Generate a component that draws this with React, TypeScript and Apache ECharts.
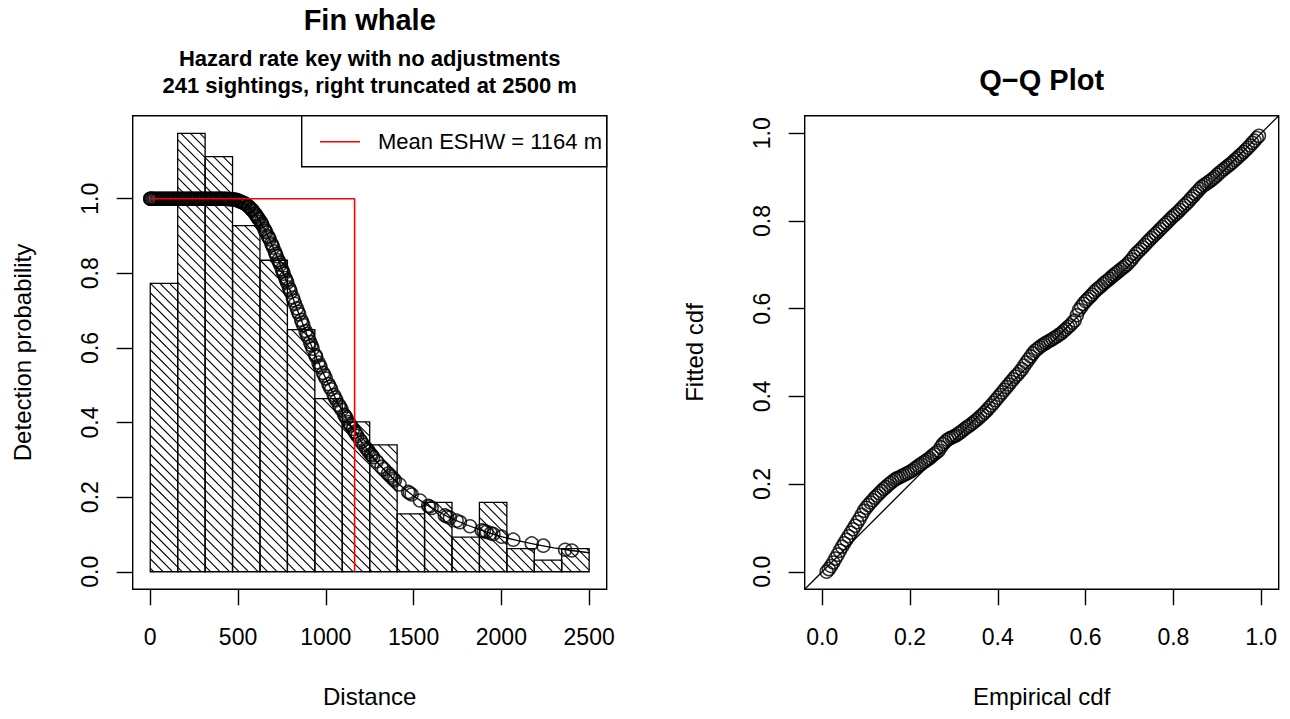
import React, { useEffect, useRef } from "react";
import * as echarts from "echarts";

// ---------- data ----------
const binEdges = [0, 156.25, 312.5, 468.75, 625, 781.25, 937.5, 1093.75, 1250, 1406.25, 1562.5, 1718.75, 1875, 2031.25, 2187.5, 2343.75, 2500];
const binHeights = [0.773, 1.175, 1.113, 0.928, 0.835, 0.649, 0.464, 0.402, 0.34, 0.155, 0.186, 0.093, 0.186, 0.062, 0.031, 0.062];

const curveDist = [0, 100, 200, 300, 400, 450, 500, 530, 560, 590, 620, 650, 680, 710, 740, 770, 800, 830, 860, 890, 920, 950, 980, 1010, 1040, 1070, 1100, 1130, 1160, 1190, 1220, 1250, 1300, 1350, 1400, 1450, 1500, 1600, 1700, 1800, 1900, 2000, 2100, 2200, 2300, 2400, 2500];
const curveProb = [1, 1, 1, 1, 1, 0.999, 0.995, 0.989, 0.979, 0.964, 0.944, 0.919, 0.891, 0.858, 0.823, 0.787, 0.75, 0.712, 0.675, 0.639, 0.604, 0.57, 0.538, 0.508, 0.479, 0.451, 0.425, 0.401, 0.379, 0.357, 0.337, 0.319, 0.29, 0.265, 0.242, 0.221, 0.203, 0.172, 0.146, 0.126, 0.109, 0.094, 0.083, 0.073, 0.064, 0.057, 0.051];

const sightDist = [
  0, 0, 4, 9, 15, 22, 28, 37, 44, 51, 60, 66, 75, 81, 90, 97, 105, 113, 119, 128, 137, 143, 152, 161, 167, 176, 185, 191, 200, 209, 216, 224, 233, 240, 249, 257, 263, 272, 281, 288, 296, 305, 311, 320, 329, 336, 344, 353, 359, 368, 377, 384, 392, 401, 408, 416, 425, 432, 441, 448, 457, 464,
  475, 485, 495, 505, 515, 525, 535, 545, 555, 565, 575, 585, 595, 605, 615,
  630, 640, 650, 660, 670, 680, 690, 700, 710, 720, 730, 740, 750, 760, 770, 780,
  790, 800, 812, 825, 835, 848, 860, 872, 885, 898, 910, 925,
  945, 958, 970, 985, 1000, 1015, 1030, 1045, 1060, 1075, 1090,
  1105, 1118, 1130, 1142, 1155, 1165, 1180, 1203, 1215, 1230, 1245,
  1256, 1262, 1270, 1290, 1317, 1330, 1355, 1365, 1374, 1385, 1393, 1420, 1469, 1478, 1489, 1536, 1583, 1590, 1603, 1678, 1690, 1707, 1745, 1764, 1821, 1888, 1900, 1916, 1940, 1954, 2002, 2068, 2173, 2239, 2363, 2401,
  480, 500, 520, 540, 560, 580, 600, 610, 620,
  635, 655, 675, 695, 715, 735, 755, 775,
  795, 818, 842, 866, 892, 918,
  940, 965, 992, 1022, 1052, 1082,
  1112, 1136, 1172, 1195, 1238,
];
const sightProb = [
  1, 1, 1, 1, 1, 1, 1, 1, 1, 1, 1, 1, 1, 1, 1, 1, 1, 1, 1, 1, 1, 1, 1, 1, 1, 1, 1, 1, 1, 1, 1, 1, 1, 1, 1, 1, 1, 1, 1, 1, 1, 1, 1, 1, 1, 1, 1, 1, 1, 1, 1, 1, 1, 1, 1, 1, 1, 1, 0.999, 0.999, 0.999, 0.998,
  0.998, 0.997, 0.996, 0.994, 0.992, 0.99, 0.988, 0.985, 0.981, 0.977, 0.972, 0.967, 0.961, 0.954, 0.947,
  0.938, 0.928, 0.919, 0.91, 0.9, 0.891, 0.88, 0.869, 0.858, 0.846, 0.835, 0.823, 0.811, 0.799, 0.787, 0.775,
  0.762, 0.75, 0.735, 0.718, 0.706, 0.69, 0.675, 0.661, 0.645, 0.63, 0.616, 0.598,
  0.576, 0.561, 0.548, 0.533, 0.518, 0.503, 0.489, 0.474, 0.46, 0.447, 0.434,
  0.421, 0.411, 0.401, 0.392, 0.383, 0.375, 0.364, 0.348, 0.34, 0.331, 0.322,
  0.315, 0.312, 0.307, 0.296, 0.281, 0.275, 0.263, 0.258, 0.254, 0.249, 0.245, 0.234, 0.214, 0.211, 0.207, 0.191, 0.177, 0.175, 0.171, 0.151, 0.148, 0.145, 0.137, 0.133, 0.122, 0.111, 0.109, 0.107, 0.103, 0.101, 0.094, 0.086, 0.076, 0.07, 0.059, 0.057,
  0.998, 0.995, 0.991, 0.987, 0.979, 0.97, 0.958, 0.951, 0.944,
  0.933, 0.914, 0.896, 0.875, 0.852, 0.829, 0.805, 0.781,
  0.756, 0.727, 0.697, 0.668, 0.637, 0.607,
  0.581, 0.553, 0.526, 0.496, 0.467, 0.441,
  0.416, 0.396, 0.37, 0.354, 0.327,
];

const meanEshw = 1164;
const distTicks = [0, 500, 1000, 1500, 2000, 2500];
const probTicks = [0, 0.2, 0.4, 0.6, 0.8, 1.0];

const qqEmpirical = [
  0.01, 0.015, 0.02, 0.025, 0.03, 0.035, 0.04, 0.045, 0.05, 0.055,
  0.06, 0.065, 0.07, 0.075, 0.08, 0.085, 0.09, 0.095, 0.1, 0.105,
  0.11, 0.115, 0.12, 0.125, 0.13, 0.135, 0.14, 0.145, 0.15, 0.155,
  0.16, 0.165, 0.17, 0.175, 0.18, 0.185, 0.19, 0.195, 0.2, 0.205,
  0.21, 0.215, 0.22, 0.225, 0.23, 0.235, 0.24, 0.245, 0.25, 0.255,
  0.26, 0.265, 0.27, 0.275, 0.28, 0.285, 0.29, 0.295, 0.3, 0.305,
  0.31, 0.315, 0.32, 0.325, 0.33, 0.335, 0.34, 0.345, 0.35, 0.355,
  0.36, 0.365, 0.37, 0.375, 0.38, 0.385, 0.39, 0.395, 0.4, 0.405,
  0.41, 0.415, 0.42, 0.425, 0.43, 0.435, 0.44, 0.445, 0.45, 0.455,
  0.46, 0.465, 0.47, 0.475, 0.48, 0.485, 0.49, 0.495, 0.5, 0.505,
  0.51, 0.515, 0.52, 0.525, 0.53, 0.535, 0.54, 0.545, 0.55, 0.555,
  0.56, 0.565, 0.57, 0.575, 0.58, 0.585, 0.59, 0.595, 0.6, 0.605,
  0.61, 0.615, 0.62, 0.625, 0.63, 0.635, 0.64, 0.645, 0.65, 0.655,
  0.66, 0.665, 0.67, 0.675, 0.68, 0.685, 0.69, 0.695, 0.7, 0.705,
  0.71, 0.715, 0.72, 0.725, 0.73, 0.735, 0.74, 0.745, 0.75, 0.755,
  0.76, 0.765, 0.77, 0.775, 0.78, 0.785, 0.79, 0.795, 0.8, 0.805,
  0.81, 0.815, 0.82, 0.825, 0.83, 0.835, 0.84, 0.845, 0.85, 0.855,
  0.86, 0.865, 0.87, 0.875, 0.88, 0.885, 0.89, 0.895, 0.9, 0.905,
  0.91, 0.915, 0.92, 0.925, 0.93, 0.935, 0.94, 0.945, 0.95, 0.955,
  0.96, 0.965, 0.97, 0.975, 0.98, 0.985, 0.99, 0.995,
];
const qqFitted = [
  0.0, 0.006, 0.013, 0.021, 0.03, 0.039, 0.048, 0.057, 0.065, 0.073,
  0.081, 0.089, 0.097, 0.105, 0.113, 0.121, 0.13, 0.139, 0.146, 0.152,
  0.158, 0.163, 0.169, 0.174, 0.179, 0.184, 0.189, 0.193, 0.198, 0.202,
  0.206, 0.21, 0.213, 0.215, 0.218, 0.22, 0.223, 0.225, 0.228, 0.231,
  0.235, 0.238, 0.242, 0.245, 0.249, 0.252, 0.256, 0.259, 0.264, 0.268,
  0.272, 0.276, 0.284, 0.291, 0.296, 0.301, 0.304, 0.306, 0.309, 0.311,
  0.315, 0.318, 0.322, 0.326, 0.33, 0.333, 0.337, 0.341, 0.345, 0.349,
  0.354, 0.358, 0.363, 0.368, 0.374, 0.379, 0.385, 0.391, 0.397, 0.403,
  0.409, 0.415, 0.421, 0.427, 0.433, 0.439, 0.445, 0.45, 0.456, 0.462,
  0.47, 0.477, 0.484, 0.491, 0.498, 0.504, 0.508, 0.512, 0.516, 0.519,
  0.522, 0.525, 0.528, 0.531, 0.534, 0.537, 0.541, 0.544, 0.549, 0.553,
  0.558, 0.562, 0.568, 0.573, 0.585, 0.597, 0.604, 0.611, 0.617, 0.622,
  0.627, 0.632, 0.638, 0.643, 0.647, 0.651, 0.656, 0.66, 0.664, 0.668,
  0.673, 0.677, 0.681, 0.685, 0.689, 0.693, 0.697, 0.701, 0.707, 0.712,
  0.719, 0.725, 0.73, 0.735, 0.74, 0.745, 0.751, 0.756, 0.761, 0.766,
  0.771, 0.776, 0.781, 0.786, 0.791, 0.796, 0.801, 0.806, 0.811, 0.815,
  0.82, 0.825, 0.83, 0.835, 0.84, 0.845, 0.851, 0.856, 0.862, 0.867,
  0.873, 0.878, 0.882, 0.885, 0.889, 0.892, 0.896, 0.9, 0.905, 0.91,
  0.914, 0.918, 0.922, 0.926, 0.93, 0.934, 0.939, 0.943, 0.948, 0.952,
  0.957, 0.962, 0.967, 0.972, 0.978, 0.983, 0.989, 0.994,
];

// ---------- layout / style ----------
const FONT = "'Liberation Sans', Arial, Helvetica, sans-serif";
const LEFT_BOX = { left: 132.7, top: 115.7, width: 474, height: 473.6 };
const RIGHT_BOX = { left: 804.7, top: 115.7, width: 474, height: 473.6 };
const DIST_RANGE = [-100, 2600];
const PROB_RANGE = [-0.047, 1.2225];
const QQ_RANGE = [-0.04, 1.04];
const HATCH = 9.5;
const TICK_FONT = 23;
const NAME_FONT = 24;

function axisCommon(ticks: number[], fmt: (v: number) => string, rotate: number, margin: number) {
  return {
    type: "value" as const,
    axisLine: { show: false, onZero: false },
    splitLine: { show: false },
    axisTick: { show: true, inside: false, customValues: ticks, length: 16, lineStyle: { color: "#000", width: 1.4 } },
    axisLabel: { customValues: ticks, formatter: fmt, rotate, margin, fontSize: TICK_FONT, color: "#000", fontFamily: FONT },
    nameLocation: "middle" as const,
    nameTextStyle: { fontSize: NAME_FONT, color: "#000", fontFamily: FONT },
  };
}

export default function App() {
  const ref = useRef<HTMLDivElement>(null);
  useEffect(() => {
    const chart = echarts.init(ref.current!, undefined, { renderer: "svg" });
    const histData = binHeights.map((h, i) => [binEdges[i], binEdges[i + 1], h]);
    const curveData = curveDist.map((d, i) => [d, curveProb[i]]);
    const sightData = sightDist.map((d, i) => [d, sightProb[i]]);
    const qqData = qqEmpirical.map((e, i) => [e, qqFitted[i]]);
    const cx = LEFT_BOX.left + LEFT_BOX.width / 2;
    const rcx = RIGHT_BOX.left + RIGHT_BOX.width / 2;
    const titleStyle = (size: number) => ({ fontSize: size, fontWeight: "bold" as const, color: "#000", fontFamily: FONT });
    const circleStyle = { color: "rgba(0,0,0,0)", borderColor: "#000", borderWidth: 1.5 };

    const option: any = {
      animation: false,
      backgroundColor: "#fff",
      title: [
        { text: "Fin whale", left: cx, top: 20, textAlign: "center", textVerticalAlign: "middle", padding: 0, textStyle: titleStyle(29) },
        { text: "Hazard rate key with no adjustments", left: cx, top: 58, textAlign: "center", textVerticalAlign: "middle", padding: 0, textStyle: titleStyle(22) },
        { text: "241 sightings, right truncated at 2500 m", left: cx, top: 85, textAlign: "center", textVerticalAlign: "middle", padding: 0, textStyle: titleStyle(22) },
        { text: "Q\u2212Q Plot", left: rcx, top: 80, textAlign: "center", textVerticalAlign: "middle", padding: 0, textStyle: titleStyle(29) },
      ],
      grid: [
        { ...LEFT_BOX, show: true, borderColor: "#000", borderWidth: 1.4, backgroundColor: "transparent" },
        { ...RIGHT_BOX, show: true, borderColor: "#000", borderWidth: 1.4, backgroundColor: "transparent" },
      ],
      xAxis: [
        { ...axisCommon(distTicks, (v: number) => String(v), 0, 36), gridIndex: 0, min: DIST_RANGE[0], max: DIST_RANGE[1], name: "Distance", nameGap: 95 },
        { ...axisCommon(probTicks, (v: number) => v.toFixed(1), 0, 36), gridIndex: 1, min: QQ_RANGE[0], max: QQ_RANGE[1], name: "Empirical cdf", nameGap: 95 },
      ],
      yAxis: [
        { ...axisCommon(probTicks, (v: number) => v.toFixed(1), 90, 31), gridIndex: 0, min: PROB_RANGE[0], max: PROB_RANGE[1], name: "Detection probability", nameGap: 98 },
        { ...axisCommon(probTicks, (v: number) => v.toFixed(1), 90, 31), gridIndex: 1, min: QQ_RANGE[0], max: QQ_RANGE[1], name: "Fitted cdf", nameGap: 98 },
      ],
      series: [
        {
          type: "custom",
          name: "Histogram",
          xAxisIndex: 0,
          yAxisIndex: 0,
          data: histData,
          encode: { x: [0, 1], y: 2 },
          renderItem: (_params: any, api: any) => {
            const pA = api.coord([api.value(0), 0]);
            const pB = api.coord([api.value(1), api.value(2)]);
            const L = pA[0], R = pB[0], B = pA[1], T = pB[1];
            const children: any[] = [];
            const cMin = T - R, cMax = B - L;
            for (let k = Math.ceil(cMin / HATCH); k * HATCH <= cMax; k++) {
              const c = k * HATCH;
              const xa = Math.max(L, T - c), xb = Math.min(R, B - c);
              if (xb > xa) children.push({ type: "line", shape: { x1: xa, y1: xa + c, x2: xb, y2: xb + c }, style: { stroke: "#000", lineWidth: 1.1 } });
            }
            children.push({ type: "rect", shape: { x: L, y: T, width: R - L, height: B - T }, style: { fill: "none", stroke: "#000", lineWidth: 1.3 } });
            return { type: "group", children };
          },
        },
        {
          type: "line",
          name: "Detection function",
          xAxisIndex: 0,
          yAxisIndex: 0,
          data: curveData,
          showSymbol: false,
          symbol: "none",
          lineStyle: { color: "#000", width: 1.3 },
        },
        {
          type: "scatter",
          name: "Sightings",
          xAxisIndex: 0,
          yAxisIndex: 0,
          data: sightData,
          symbol: "circle",
          symbolSize: 13,
          itemStyle: circleStyle,
        },
        {
          type: "line",
          name: `Mean ESHW = ${meanEshw} m`,
          xAxisIndex: 0,
          yAxisIndex: 0,
          data: [[0, 1], [meanEshw, 1], [meanEshw, 0]],
          showSymbol: false,
          symbol: "none",
          lineStyle: { color: "#ff0000", width: 1.6 },
        },
        {
          type: "line",
          name: "y = x",
          xAxisIndex: 1,
          yAxisIndex: 1,
          data: [[QQ_RANGE[0], QQ_RANGE[0]], [QQ_RANGE[1], QQ_RANGE[1]]],
          showSymbol: false,
          symbol: "none",
          lineStyle: { color: "#000", width: 1.3 },
        },
        {
          type: "scatter",
          name: "Q-Q",
          xAxisIndex: 1,
          yAxisIndex: 1,
          data: qqData,
          symbol: "circle",
          symbolSize: 13,
          itemStyle: circleStyle,
        },
      ],
      graphic: [
        {
          type: "group",
          z: 100,
          children: [
            { type: "rect", shape: { x: 301.7, y: 115.7, width: 305, height: 51 }, style: { fill: "#fff", stroke: "#000", lineWidth: 1.4 } },
            { type: "line", shape: { x1: 320, y1: 141.7, x2: 360, y2: 141.7 }, style: { stroke: "#ff0000", lineWidth: 1.6 } },
            { type: "text", x: 378, y: 141.7, style: { text: `Mean ESHW = ${meanEshw} m`, fontSize: 22, fill: "#000", fontFamily: FONT, align: "left", verticalAlign: "middle" } },
          ],
        },
      ],
    };
    chart.setOption(option);
    return () => chart.dispose();
  }, []);
  return <div ref={ref} style={{ position: "fixed", left: 0, top: 0, width: 1290, height: 719, background: "#fff" }} />;
}
